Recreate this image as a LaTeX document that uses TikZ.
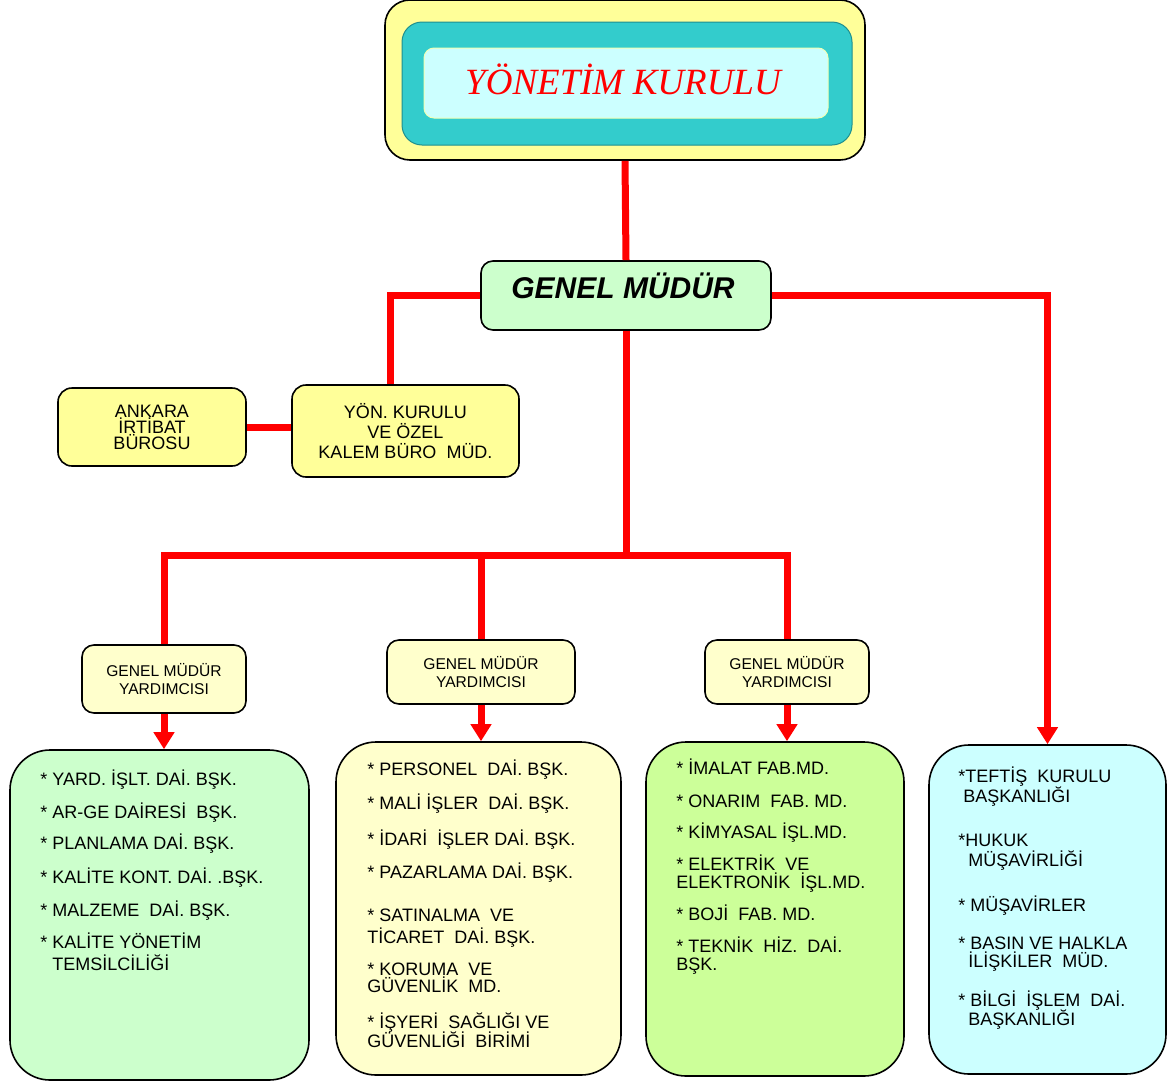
\documentclass[tikz,border=0pt]{standalone}
\usepackage{fontspec}
\setmainfont{Liberation Sans}
\newfontfamily\timesfont{Liberation Serif}
\usepackage{tikz}
\usetikzlibrary{arrows.meta,calc}
\definecolor{sari}{HTML}{FFFF99}
\definecolor{acsari}{HTML}{FFFFCC}
\definecolor{turkuaz}{HTML}{33CCCC}
\definecolor{koyuturkuaz}{HTML}{1F8F8F}
\definecolor{accamgobegi}{HTML}{CCFFFF}
\definecolor{acyesil}{HTML}{CCFFCC}
\definecolor{fistik}{HTML}{CCFF99}
\tikzset{
  hat/.style={draw=red, line width=3.5pt},
  ok/.style={hat, -{Triangle[width=10pt,length=8.5pt]}},
  kutu/.style={draw=black, line width=0.8pt, rounded corners=6pt, inner sep=0pt},
  birim/.style={kutu, rounded corners=20pt},
  yazi/.style={font=\fontsize{9}{10}\selectfont, align=left, inner sep=0pt, anchor=base west}
}
\begin{document}
\begin{tikzpicture}[x=0.5pt, y=-0.5pt]
\useasboundingbox (0,0) rectangle (1167,1082);

\node[kutu, fill=sari, rounded corners=12.5pt, minimum width=240pt, minimum height=80pt] (kurulu) at (625,80) {};
\node[kutu, draw=koyuturkuaz, line width=0.5pt, fill=turkuaz, rounded corners=10pt, minimum width=225pt, minimum height=61.5pt] (kurulucerceve) at (627,83.5) {};
\node[kutu, draw=sari!70!accamgobegi, line width=0.5pt, fill=accamgobegi, rounded corners=5pt, minimum width=202pt, minimum height=35pt] (kuruluic) at (626,83) {};
\node[font=\timesfont\itshape\fontsize{18.5}{20}\selectfont, text=red, inner sep=0pt] (kuruluyazi) at ([xshift=-1.5pt,yshift=2pt]kuruluic.center) {YÖNETİM KURULU};

\node[kutu, fill=acyesil, minimum width=145pt, minimum height=34.5pt] (genel) at (626,295.5) {};
\node[font=\bfseries\itshape\fontsize{15}{17}\selectfont, inner sep=0pt] (genelyazi) at ([xshift=-1.5pt,yshift=5pt]genel.center) {GENEL MÜDÜR};

\node[kutu, fill=sari, rounded corners=7pt, minimum width=113.5pt, minimum height=46pt, align=center,
      font=\fontsize{9}{10}\selectfont] (yon) at (405.5,431) {YÖN. KURULU\\VE ÖZEL\\KALEM BÜRO~ MÜD.};
\node[kutu, fill=sari, rounded corners=7pt, minimum width=94pt, minimum height=39pt, align=center,
      font=\fontsize{9}{8}\selectfont] (ankara) at (152,427) {ANKARA\\İRTİBAT\\BÜROSU};

\node[kutu, fill=acsari, minimum width=82pt, minimum height=34pt, align=center, font=\fontsize{7.8}{9}\selectfont] (gmy1) at (164,679) {GENEL MÜDÜR\\YARDIMCISI};
\node[kutu, fill=acsari, minimum width=94pt, minimum height=32pt, align=center, font=\fontsize{7.8}{9}\selectfont] (gmy2) at (481,672) {GENEL MÜDÜR\\YARDIMCISI};
\node[kutu, fill=acsari, minimum width=82pt, minimum height=32pt, align=center, font=\fontsize{7.8}{9}\selectfont] (gmy3) at (787,672) {GENEL MÜDÜR\\YARDIMCISI};

\node[birim, fill=acyesil, minimum width=149.5pt, minimum height=165pt] (birim1) at (159.5,915) {};
\node[birim, fill=acsari, minimum width=142.5pt, minimum height=166.5pt] (birim2) at (478.5,908.5) {};
\node[birim, fill=fistik, minimum width=129pt, minimum height=167pt] (birim3) at (775,909) {};
\node[birim, fill=accamgobegi, minimum width=118.5pt, minimum height=164.5pt] (birim4) at (1047.5,909.5) {};

\node[yazi] (liste1) at (40,970) {%
* YARD. İŞLT. DAİ. BŞK.\\[6.5pt]
* AR-GE DAİRESİ~ BŞK.\\[5.5pt]
* PLANLAMA DAİ. BŞK.\\[7pt]
* KALİTE KONT. DAİ. .BŞK.\\[6.5pt]
* MALZEME~ DAİ. BŞK.\\[6pt]
* KALİTE YÖNETİM\\[1pt]
\hspace*{6pt}TEMSİLCİLİĞİ};
\node[yazi] (liste2) at (367,1047) {%
* PERSONEL~ DAİ. BŞK.\\[7pt]
* MALİ İŞLER~ DAİ. BŞK.\\[8pt]
* İDARİ~ İŞLER DAİ. BŞK.\\[6.5pt]
* PAZARLAMA DAİ. BŞK.\\[11.5pt]
* SATINALMA~ VE\\[1pt]
TİCARET~ DAİ. BŞK.\\[6pt]
* KORUMA~ VE\\[-1.5pt]
GÜVENLİK~ MD.\\[8pt]
* İŞYERİ~ SAĞLIĞI VE\\[-0.5pt]
GÜVENLİĞİ~ BİRİMİ};
\node[yazi] (liste3) at (676,970) {%
* İMALAT FAB.MD.\\[6.5pt]
* ONARIM~ FAB. MD.\\[5.5pt]
* KİMYASAL İŞL.MD.\\[6pt]
* ELEKTRİK~ VE\\[-1pt]
ELEKTRONİK~ İŞL.MD.\\[6pt]
* BOJİ~ FAB. MD.\\[6pt]
* TEKNİK~ HİZ.~ DAİ.\\[-1pt]
BŞK.};
\node[yazi] (liste4) at (958,1025) {%
*TEFTİŞ~ KURULU\\[0pt]
\hspace*{2.5pt}BAŞKANLIĞI\\[12pt]
*HUKUK\\[0pt]
\hspace*{5pt}MÜŞAVİRLİĞİ\\[12.5pt]
* MÜŞAVİRLER\\[9pt]
* BASIN VE HALKLA\\[-1pt]
\hspace*{5pt}İLİŞKİLER~ MÜD.\\[9.5pt]
* BİLGİ~ İŞLEM~ DAİ.\\[-0.5pt]
\hspace*{5pt}BAŞKANLIĞI};

\coordinate (dagit) at (626,555);

\draw[hat] (kurulu.south) -- (genel.north);
\draw[hat] (genel.west) -| ($(yon.north)+(-15,0)$);
\draw[hat] (ankara.east) -- (ankara.east -| yon.west);
\draw[hat] (genel.south) -- (dagit);
\draw[hat] (gmy1.north) -- (gmy1.north |- dagit) -- (gmy3.north |- dagit) -- (gmy3.north);
\draw[hat] (gmy2.north) -- (gmy2.north |- dagit);
\draw[ok] (genel.east) -| (birim4.north);
\draw[ok] (gmy1.south) -- (gmy1.south |- birim1.north);
\draw[ok] (gmy2.south) -- (gmy2.south |- birim2.north);
\draw[ok] (gmy3.south) -- (gmy3.south |- birim3.north);
\end{tikzpicture}
\end{document}
